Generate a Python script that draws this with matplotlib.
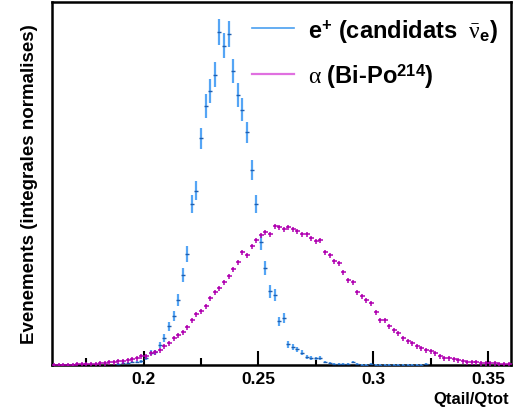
import numpy as np
import matplotlib
matplotlib.use("Agg")
import matplotlib.pyplot as plt

# bins of width 0.002 from 0.16 to 0.36 (centres 0.161 ... 0.359)
x_start, bin_w = 0.161, 0.002

# e+ candidates (normalised counts, arbitrary units)
positron = [0, 0, 0, 0, 0, 0, 0, 0, 0, 0, 0, 0, 0, 0,
            1.5, 2.0, 2.0, 3.0, 3.0, 4.0, 7.0, 12.3, 13.0, 20.0,
            27.3, 39.0, 48.7, 65.3, 90.3, 111.0, 160.7, 174.3, 226.5, 259.0,
            273.7, 290.3, 332.7, 319.3, 331.3, 294.0, 269.7, 255.0, 232.5, 195.3,
            160.7, 122.7, 96.7, 73.7, 70.3, 43.7, 46.7, 20.7, 17.7, 15.7,
            12.3, 8.3, 7.3, 6.7, 7.3, 3.3, 2.0, 1.0, 1.0, 1.0,
            1.0, 3.0, 1.0, 0.5, 0.5, 1.0, 0.5, 0.5, 0.5, 0.5,
            0.5, 0.5, 0.5, 0.5, 0.5, 0.5, 0.5, 1.5, 0, 0,
            0, 0, 0, 0, 0, 0, 0, 0, 0, 0,
            0, 0, 0, 0, 0, 0]

# alpha (Bi-Po 214)
alpha = [0.4, 0.4, 0.5, 0.5, 0.6, 0.7, 0.8, 0.9, 1.1, 1.4,
         1.7, 2.2, 2.7, 3.3, 4.0, 4.3, 5.0, 6.5, 7.5, 9.0,
         9.5, 12.0, 13.3, 14.7, 18.7, 21.7, 26.7, 30.3, 33.3, 37.7,
         45.3, 50.7, 54.0, 59.3, 66.7, 72.7, 76.7, 83.3, 88.7, 96.0,
         102.7, 112.7, 110.0, 119.0, 125.0, 129.7, 132.7, 131.0, 138.7, 137.7,
         136.3, 138.0, 135.7, 134.0, 131.0, 130.7, 126.7, 123.7, 124.7, 113.0,
         110.3, 103.7, 101.7, 93.3, 85.2, 82.7, 73.5, 68.7, 65.0, 61.7,
         53.3, 44.7, 44.7, 39.3, 35.0, 31.7, 27.3, 24.0, 22.0, 19.0,
         17.0, 14.7, 13.7, 11.7, 9.3, 7.0, 7.0, 6.0, 4.7, 3.7,
         3.3, 3.3, 3.3, 1.7, 2.0, 2.0, 1.7, 1.3, 1.0, 1.0]

major_ticks = [0.2, 0.25, 0.3, 0.35]
minor_ticks = [0.175, 0.225, 0.275, 0.325]
tick_labels = ["0.2", "0.25", "0.3", "0.35"]

plt.rcParams["font.family"] = ["Liberation Sans", "DejaVu Sans"]
plt.rcParams["mathtext.fontset"] = "custom"
plt.rcParams["mathtext.rm"] = "Liberation Serif"
plt.rcParams["mathtext.bf"] = "Liberation Sans:bold"
plt.rcParams["mathtext.it"] = "Liberation Serif:italic"

pos = np.array(positron)
alp = np.array(alpha)
xc = x_start + bin_w * np.arange(len(pos))
pos_err = np.sqrt(pos * 0.515)   # poisson errors in these units
m = pos > 0

fig = plt.figure(figsize=(5.14, 4.10), dpi=100)
ax = fig.add_axes([0.101, 0.107, 0.893, 0.886])

ax.errorbar(xc[m], pos[m], yerr=pos_err[m], fmt="_", color="#1f5fb0",
            ecolor="#55a5f5", elinewidth=1.6, markersize=3.5, mew=1.0,
            capsize=0, zorder=3)
ax.plot(xc, alp, ls="none", marker="+", color="#b000b0", markersize=3.6,
        mew=1.1, zorder=4)

ax.set_xlim(0.16, 0.36)
ax.set_ylim(0, 363)
ax.set_yticks([])
ax.set_xticks(major_ticks)
ax.set_xticklabels(tick_labels, fontsize=12.5, fontweight="bold")
ax.set_xticks(minor_ticks, minor=True)
ax.tick_params(axis="x", which="major", direction="in", length=10, width=1.5, pad=4)
ax.tick_params(axis="x", which="minor", direction="in", length=5, width=1.5)
for s in ax.spines.values():
    s.set_linewidth(1.8)

ax.set_ylabel("Evenements (integrales normalises)", fontsize=13.5,
              fontweight="bold", labelpad=10)
ax.text(0.995, -0.072, "Qtail/Qtot", transform=ax.transAxes, ha="right",
        va="top", fontsize=12, fontweight="bold")

# hand-made legend, ROOT style
ax.plot([0.436, 0.527], [0.928, 0.928], transform=ax.transAxes,
        color="#4a9ff0", lw=1.2)
ax.plot([0.436, 0.527], [0.802, 0.802], transform=ax.transAxes,
        color="#e070e0", lw=1.6)
ax.text(0.558, 0.922, r"e$^{\mathbf{+}}$ (candidats $\ \mathrm{\bar{\nu}}_{\mathbf{e}}$)",
        transform=ax.transAxes, va="center", ha="left", fontsize=17,
        fontweight="bold")
ax.text(0.558, 0.796, r"$\mathrm{\alpha}$ (Bi-Po$^{\mathbf{214}}$)",
        transform=ax.transAxes, va="center", ha="left", fontsize=17,
        fontweight="bold")

fig.savefig("out.png", dpi=100)
